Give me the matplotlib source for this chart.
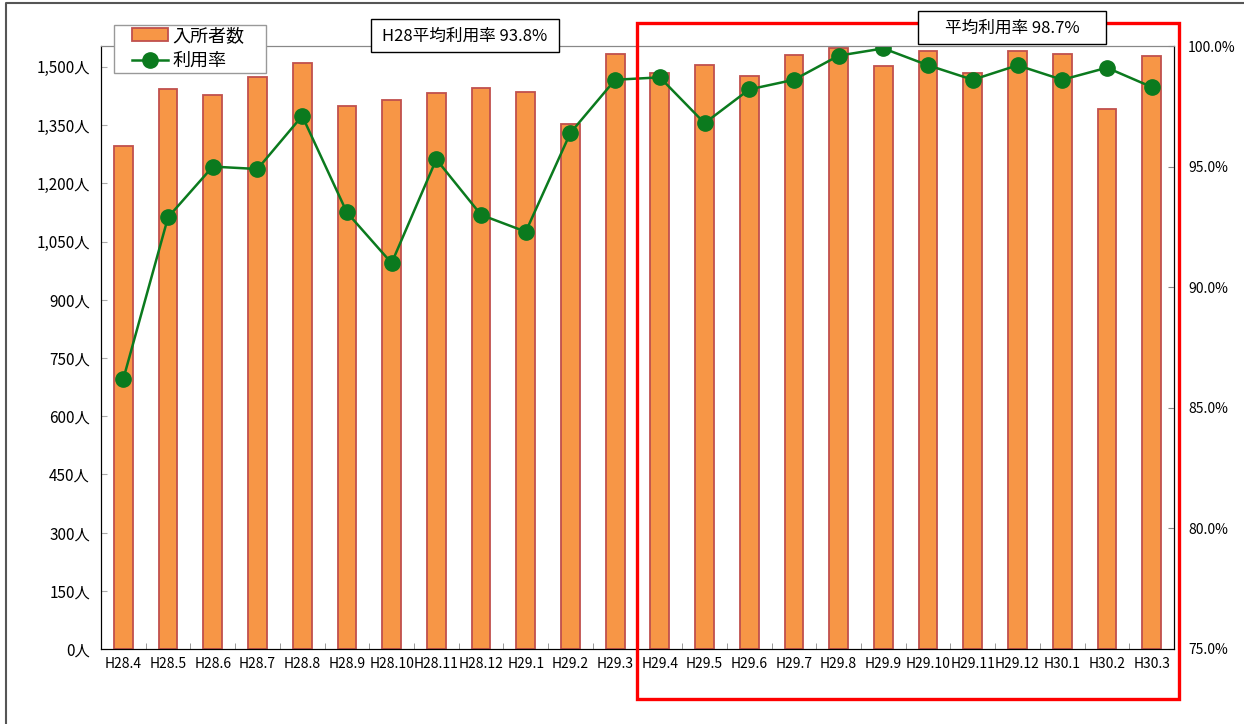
import numpy as np
import matplotlib
matplotlib.use('Agg')
import matplotlib.pyplot as plt
from matplotlib.patches import Rectangle
from matplotlib.lines import Line2D
from matplotlib.patches import Patch

plt.rcParams['font.family'] = ['Noto Sans CJK JP', 'DejaVu Sans']

# データ
months = ['H28.4', 'H28.5', 'H28.6', 'H28.7', 'H28.8', 'H28.9', 'H28.10', 'H28.11',
          'H28.12', 'H29.1', 'H29.2', 'H29.3', 'H29.4', 'H29.5', 'H29.6', 'H29.7',
          'H29.8', 'H29.9', 'H29.10', 'H29.11', 'H29.12', 'H30.1', 'H30.2', 'H30.3']
admissions = [1296, 1443, 1428, 1474, 1509, 1399, 1414, 1434, 1445, 1435, 1353, 1533,
              1485, 1505, 1477, 1532, 1548, 1502, 1540, 1484, 1541, 1533, 1391, 1527]
rates = [86.2, 92.9, 95.0, 94.9, 97.1, 93.1, 91.0, 95.3, 93.0, 92.3, 96.4, 98.6,
         98.7, 96.8, 98.2, 98.6, 99.6, 99.9, 99.2, 98.6, 99.2, 98.6, 99.1, 98.3]
left_ticks = [0, 150, 300, 450, 600, 750, 900, 1050, 1200, 1350, 1500]
right_ticks = [75, 80, 85, 90, 95, 100]
note_h28 = 'H28平均利用率 93.8%'
note_recent = '平均利用率 98.7%'

orange = '#F79646'
edge = '#C0504D'
green = '#0B7A1E'
W, H = 1244, 724


def fx(px):
    return px / W


def fy(py):
    return 1 - py / H


fig = plt.figure(figsize=(12.44, 7.24), dpi=100)
ax = fig.add_axes([fx(101), fy(649), 1073 / W, 603 / H])
x = np.arange(len(months))

ax.bar(x, admissions, width=0.42, color=orange, edgecolor=edge, linewidth=1.3)
ax.set_xlim(-0.5, len(months) - 0.5)
ax.set_ylim(0, 1554)
ax.set_yticks(left_ticks)
ax.set_yticklabels([f'{v:,}人' for v in left_ticks], fontsize=11)
ax.set_xticks(x)
ax.set_xticklabels(months, fontsize=10)
ax.set_xticks(np.arange(-0.5, len(months)), minor=True)
ax.tick_params(axis='x', which='major', length=0, pad=6)
ax.tick_params(axis='x', which='minor', direction='in', length=4, color='#888888')
ax.tick_params(axis='y', direction='in', length=4, color='#aaaaaa', pad=8)
for s in ['left', 'bottom', 'right']:
    ax.spines[s].set_color('black')
ax.spines['top'].set_color('#888888')

ax2 = ax.twinx()
ax2.plot(x, rates, color=green, linewidth=1.8, marker='o', markersize=11)
ax2.set_ylim(75, 100)
ax2.set_yticks(right_ticks)
ax2.set_yticklabels([f'{v:.1f}%' for v in right_ticks], fontsize=10)
ax2.tick_params(axis='y', direction='in', length=4, color='#888888', pad=10)
ax2.spines['top'].set_color('#888888')

# 凡例(枠は別に描く)
fig.add_artist(Rectangle((fx(114), fy(73)), (266 - 114) / W, (73 - 25) / H,
                         transform=fig.transFigure, facecolor='white',
                         edgecolor='#999999', linewidth=1.0, zorder=4))
handles = [Patch(facecolor=orange, edgecolor=edge, linewidth=1.3),
           Line2D([0], [0], color=green, linewidth=1.8, marker='o', markersize=11)]
leg = fig.legend(handles, ['入所者数', '利用率'], loc='upper left',
                 bbox_to_anchor=(fx(130), fy(25)), fontsize=13,
                 frameon=False, borderpad=0.1, labelspacing=0.4,
                 handlelength=2.0, handletextpad=0.25, borderaxespad=0)

# 注記
box_style = dict(facecolor='white', edgecolor='black', linewidth=1.0)
fig.add_artist(Rectangle((fx(371), fy(52)), (559 - 371) / W, (52 - 19) / H,
                         transform=fig.transFigure, zorder=10, **box_style))
fig.text(fx(465), fy(36), note_h28, fontsize=12, ha='center', va='center', zorder=11)

rect = Rectangle((fx(637), fy(699)), (1179 - 637) / W, (699 - 23) / H,
                 transform=fig.transFigure, fill=False, edgecolor='#FF0000', linewidth=2.4,
                 zorder=9)
fig.add_artist(rect)
fig.add_artist(Rectangle((fx(918), fy(44)), (1106 - 918) / W, (44 - 11) / H,
                         transform=fig.transFigure, zorder=10, **box_style))
fig.text(fx(1012), fy(28), note_recent, fontsize=12, ha='center', va='center', zorder=11)

# 外枠
fig.add_artist(Line2D([fx(6), fx(6), 1], [0, fy(3), fy(3)],
                      transform=fig.transFigure, color='#555555', linewidth=1.5))

fig.savefig('out.png', dpi=100)
